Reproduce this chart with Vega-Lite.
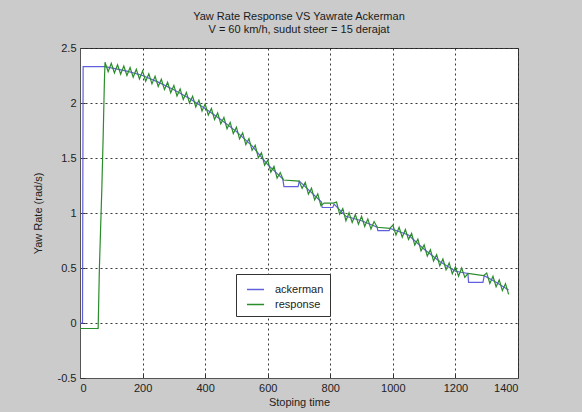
{
  "$schema": "https://vega.github.io/schema/vega-lite/v6.json",
  "autosize": "none",
  "width": 438,
  "height": 330,
  "padding": {"left": 80, "top": 48, "right": 64, "bottom": 34},
  "background": "#cbcbcb",
  "config": {
    "font": "Liberation Sans",
    "view": {"fill": "white", "stroke": "#3a3a3a", "strokeWidth": 1}
  },
  "title": {
    "text": ["Yaw Rate Response VS Yawrate Ackerman", "V = 60 km/h, sudut steer = 15 derajat"],
    "fontSize": 11,
    "fontWeight": "normal",
    "color": "#1a1a1a",
    "anchor": "middle",
    "offset": 7,
    "lineHeight": 13,
    "font": "Liberation Sans"
  },
  "data": {
    "values": [
      {"series": "ackerman", "time": 0, "rate": 0},
      {"series": "ackerman", "time": 8, "rate": 0},
      {"series": "ackerman", "time": 10, "rate": 2.33},
      {"series": "ackerman", "time": 80, "rate": 2.33},
      {"series": "ackerman", "time": 100, "rate": 2.32},
      {"series": "ackerman", "time": 150, "rate": 2.29},
      {"series": "ackerman", "time": 200, "rate": 2.25},
      {"series": "ackerman", "time": 250, "rate": 2.19},
      {"series": "ackerman", "time": 300, "rate": 2.12},
      {"series": "ackerman", "time": 350, "rate": 2.04},
      {"series": "ackerman", "time": 400, "rate": 1.95},
      {"series": "ackerman", "time": 450, "rate": 1.85},
      {"series": "ackerman", "time": 500, "rate": 1.74},
      {"series": "ackerman", "time": 550, "rate": 1.61},
      {"series": "ackerman", "time": 600, "rate": 1.44},
      {"series": "ackerman", "time": 648, "rate": 1.31},
      {"series": "ackerman", "time": 652, "rate": 1.24},
      {"series": "ackerman", "time": 697, "rate": 1.24},
      {"series": "ackerman", "time": 701, "rate": 1.29},
      {"series": "ackerman", "time": 772, "rate": 1.1},
      {"series": "ackerman", "time": 774, "rate": 1.05},
      {"series": "ackerman", "time": 808, "rate": 1.05},
      {"series": "ackerman", "time": 812, "rate": 1.08},
      {"series": "ackerman", "time": 850, "rate": 0.97},
      {"series": "ackerman", "time": 900, "rate": 0.93},
      {"series": "ackerman", "time": 950, "rate": 0.87},
      {"series": "ackerman", "time": 952, "rate": 0.84},
      {"series": "ackerman", "time": 988, "rate": 0.84},
      {"series": "ackerman", "time": 992, "rate": 0.86},
      {"series": "ackerman", "time": 1050, "rate": 0.8},
      {"series": "ackerman", "time": 1100, "rate": 0.67},
      {"series": "ackerman", "time": 1150, "rate": 0.56},
      {"series": "ackerman", "time": 1200, "rate": 0.47},
      {"series": "ackerman", "time": 1240, "rate": 0.45},
      {"series": "ackerman", "time": 1242, "rate": 0.37},
      {"series": "ackerman", "time": 1288, "rate": 0.37},
      {"series": "ackerman", "time": 1292, "rate": 0.43},
      {"series": "ackerman", "time": 1330, "rate": 0.37},
      {"series": "ackerman", "time": 1370, "rate": 0.3},
      {"series": "response", "time": 0, "rate": -0.05},
      {"series": "response", "time": 58, "rate": -0.05},
      {"series": "response", "time": 62, "rate": 0.5},
      {"series": "response", "time": 70, "rate": 1.24},
      {"series": "response", "time": 74, "rate": 1.69},
      {"series": "response", "time": 78, "rate": 2.2},
      {"series": "response", "time": 80, "rate": 2.37},
      {"series": "response", "time": 90, "rate": 2.285},
      {"series": "response", "time": 100, "rate": 2.36},
      {"series": "response", "time": 110, "rate": 2.274},
      {"series": "response", "time": 120, "rate": 2.348},
      {"series": "response", "time": 130, "rate": 2.262},
      {"series": "response", "time": 140, "rate": 2.336},
      {"series": "response", "time": 150, "rate": 2.25},
      {"series": "response", "time": 160, "rate": 2.322},
      {"series": "response", "time": 170, "rate": 2.234},
      {"series": "response", "time": 180, "rate": 2.306},
      {"series": "response", "time": 190, "rate": 2.218},
      {"series": "response", "time": 200, "rate": 2.29},
      {"series": "response", "time": 210, "rate": 2.198},
      {"series": "response", "time": 220, "rate": 2.266},
      {"series": "response", "time": 230, "rate": 2.174},
      {"series": "response", "time": 240, "rate": 2.242},
      {"series": "response", "time": 250, "rate": 2.15},
      {"series": "response", "time": 260, "rate": 2.216},
      {"series": "response", "time": 270, "rate": 2.122},
      {"series": "response", "time": 280, "rate": 2.188},
      {"series": "response", "time": 290, "rate": 2.094},
      {"series": "response", "time": 300, "rate": 2.16},
      {"series": "response", "time": 310, "rate": 2.064},
      {"series": "response", "time": 320, "rate": 2.128},
      {"series": "response", "time": 330, "rate": 2.032},
      {"series": "response", "time": 340, "rate": 2.096},
      {"series": "response", "time": 350, "rate": 2.0},
      {"series": "response", "time": 360, "rate": 2.062},
      {"series": "response", "time": 370, "rate": 1.964},
      {"series": "response", "time": 380, "rate": 2.026},
      {"series": "response", "time": 390, "rate": 1.928},
      {"series": "response", "time": 400, "rate": 1.99},
      {"series": "response", "time": 410, "rate": 1.89},
      {"series": "response", "time": 420, "rate": 1.95},
      {"series": "response", "time": 430, "rate": 1.85},
      {"series": "response", "time": 440, "rate": 1.91},
      {"series": "response", "time": 450, "rate": 1.81},
      {"series": "response", "time": 460, "rate": 1.868},
      {"series": "response", "time": 470, "rate": 1.766},
      {"series": "response", "time": 480, "rate": 1.824},
      {"series": "response", "time": 490, "rate": 1.722},
      {"series": "response", "time": 500, "rate": 1.78},
      {"series": "response", "time": 510, "rate": 1.674},
      {"series": "response", "time": 520, "rate": 1.728},
      {"series": "response", "time": 530, "rate": 1.622},
      {"series": "response", "time": 540, "rate": 1.676},
      {"series": "response", "time": 550, "rate": 1.57},
      {"series": "response", "time": 560, "rate": 1.616},
      {"series": "response", "time": 570, "rate": 1.502},
      {"series": "response", "time": 580, "rate": 1.548},
      {"series": "response", "time": 590, "rate": 1.434},
      {"series": "response", "time": 600, "rate": 1.48},
      {"series": "response", "time": 610, "rate": 1.372},
      {"series": "response", "time": 620, "rate": 1.424},
      {"series": "response", "time": 630, "rate": 1.316},
      {"series": "response", "time": 640, "rate": 1.368},
      {"series": "response", "time": 650, "rate": 1.3},
      {"series": "response", "time": 700, "rate": 1.29},
      {"series": "response", "time": 710, "rate": 1.224},
      {"series": "response", "time": 720, "rate": 1.278},
      {"series": "response", "time": 730, "rate": 1.171},
      {"series": "response", "time": 740, "rate": 1.225},
      {"series": "response", "time": 750, "rate": 1.119},
      {"series": "response", "time": 760, "rate": 1.173},
      {"series": "response", "time": 770, "rate": 1.066},
      {"series": "response", "time": 780, "rate": 1.09},
      {"series": "response", "time": 810, "rate": 1.09},
      {"series": "response", "time": 820, "rate": 1.1},
      {"series": "response", "time": 830, "rate": 0.99},
      {"series": "response", "time": 840, "rate": 1.04},
      {"series": "response", "time": 850, "rate": 0.93},
      {"series": "response", "time": 860, "rate": 1.002},
      {"series": "response", "time": 870, "rate": 0.914},
      {"series": "response", "time": 880, "rate": 0.986},
      {"series": "response", "time": 890, "rate": 0.898},
      {"series": "response", "time": 900, "rate": 0.97},
      {"series": "response", "time": 910, "rate": 0.878},
      {"series": "response", "time": 920, "rate": 0.946},
      {"series": "response", "time": 930, "rate": 0.854},
      {"series": "response", "time": 940, "rate": 0.922},
      {"series": "response", "time": 950, "rate": 0.87},
      {"series": "response", "time": 990, "rate": 0.86},
      {"series": "response", "time": 1000, "rate": 0.89},
      {"series": "response", "time": 1010, "rate": 0.8},
      {"series": "response", "time": 1020, "rate": 0.87},
      {"series": "response", "time": 1030, "rate": 0.78},
      {"series": "response", "time": 1040, "rate": 0.85},
      {"series": "response", "time": 1050, "rate": 0.76},
      {"series": "response", "time": 1060, "rate": 0.814},
      {"series": "response", "time": 1070, "rate": 0.708},
      {"series": "response", "time": 1080, "rate": 0.762},
      {"series": "response", "time": 1090, "rate": 0.656},
      {"series": "response", "time": 1100, "rate": 0.71},
      {"series": "response", "time": 1110, "rate": 0.608},
      {"series": "response", "time": 1120, "rate": 0.666},
      {"series": "response", "time": 1130, "rate": 0.564},
      {"series": "response", "time": 1140, "rate": 0.622},
      {"series": "response", "time": 1150, "rate": 0.52},
      {"series": "response", "time": 1160, "rate": 0.582},
      {"series": "response", "time": 1170, "rate": 0.484},
      {"series": "response", "time": 1180, "rate": 0.546},
      {"series": "response", "time": 1190, "rate": 0.448},
      {"series": "response", "time": 1200, "rate": 0.51},
      {"series": "response", "time": 1210, "rate": 0.425},
      {"series": "response", "time": 1220, "rate": 0.5},
      {"series": "response", "time": 1230, "rate": 0.415},
      {"series": "response", "time": 1240, "rate": 0.45},
      {"series": "response", "time": 1290, "rate": 0.43},
      {"series": "response", "time": 1300, "rate": 0.455},
      {"series": "response", "time": 1310, "rate": 0.36},
      {"series": "response", "time": 1320, "rate": 0.425},
      {"series": "response", "time": 1330, "rate": 0.33},
      {"series": "response", "time": 1340, "rate": 0.392},
      {"series": "response", "time": 1350, "rate": 0.295},
      {"series": "response", "time": 1360, "rate": 0.358},
      {"series": "response", "time": 1370, "rate": 0.26}
    ]
  },
  "mark": {"type": "line", "strokeWidth": 1.2, "clip": true},
  "encoding": {
    "x": {
      "field": "time",
      "type": "quantitative",
      "scale": {"domain": [0, 1400], "nice": false, "zero": false},
      "axis": {
        "values": [0, 200, 400, 600, 800, 1000, 1200, 1400],
        "labelExpr": "toString(datum.value)",
        "title": "Stoping time",
        "grid": true,
        "gridDash": [2, 3],
        "gridColor": "#222",
        "gridOpacity": 0.9,
        "domainColor": "#555",
        "tickColor": "#333",
        "tickSize": -5,
        "labelPadding": 9,
        "labelFontSize": 11,
        "labelColor": "#222",
        "labelFont": "Liberation Sans",
        "titleFont": "Liberation Sans",
        "titleFontSize": 11,
        "titleFontWeight": "normal",
        "titleColor": "#222",
        "titlePadding": 3
      }
    },
    "y": {
      "field": "rate",
      "type": "quantitative",
      "scale": {"domain": [-0.5, 2.5], "nice": false, "zero": false},
      "axis": {
        "values": [-0.5, 0, 0.5, 1, 1.5, 2, 2.5],
        "labelExpr": "toString(datum.value)",
        "title": "Yaw Rate (rad/s)",
        "grid": true,
        "gridDash": [2, 3],
        "gridColor": "#222",
        "gridOpacity": 0.9,
        "domainColor": "#555",
        "tickColor": "#333",
        "tickSize": -5,
        "labelPadding": 9,
        "labelFontSize": 11,
        "labelColor": "#222",
        "labelFont": "Liberation Sans",
        "titleFont": "Liberation Sans",
        "titleFontSize": 11,
        "titleFontWeight": "normal",
        "titleColor": "#222",
        "titlePadding": 14
      }
    },
    "color": {
      "field": "series",
      "type": "nominal",
      "scale": {"domain": ["ackerman", "response"], "range": ["#6060dc", "#2a8c2a"]},
      "legend": {
        "title": null,
        "orient": "none",
        "legendX": 156,
        "legendY": 226,
        "fillColor": "white",
        "strokeColor": "#333",
        "padding": 6,
        "symbolType": "stroke",
        "symbolSize": 289,
        "symbolStrokeWidth": 1.5,
        "labelFontSize": 11,
        "labelFont": "Liberation Sans",
        "labelColor": "#222",
        "labelOffset": 10,
        "rowPadding": 0,
        "symbolOffset": 4
      }
    }
  }
}
